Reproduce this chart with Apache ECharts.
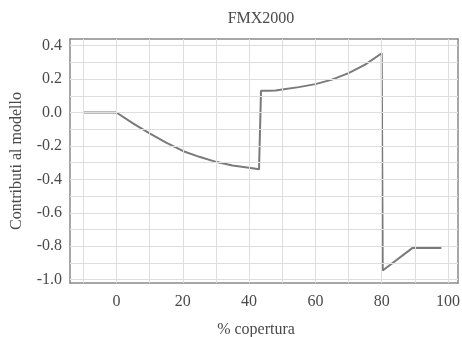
<!DOCTYPE html>
<html>
<head>
<meta charset="utf-8">
<script src="https://cdn.jsdelivr.net/npm/echarts@6/dist/echarts.min.js"></script>
<style>
  html, body { margin: 0; padding: 0; background: #fff; }
  #chart { width: 462px; height: 337px; }
</style>
</head>
<body>
<div id="chart"></div>
<script>
// values
const copertura = [-10, 0, 5, 10, 15, 20, 25, 30, 35, 40, 43, 43.6, 46, 48, 50, 55, 60, 65, 70, 75, 80, 80.3, 80.6, 89.3, 98];
const contributi = [0, 0, -0.065, -0.125, -0.18, -0.23, -0.265, -0.295, -0.317, -0.33, -0.34, 0.13, 0.13, 0.132, 0.138, 0.152, 0.17, 0.197, 0.236, 0.287, 0.355, -0.945, -0.945, -0.81, -0.81];
const xLabels = [0, 20, 40, 60, 80, 100];
const yLabels = [0.4, 0.2, 0.0, -0.2, -0.4, -0.6, -0.8, -1.0];
const xGrid = [-10, 0, 10, 20, 30, 40, 50, 60, 70, 80, 90, 100];
const yGrid = [-1.0, -0.9, -0.8, -0.7, -0.6, -0.5, -0.4, -0.3, -0.2, -0.1, 0.0, 0.1, 0.2, 0.3, 0.4];

const serif = '"Liberation Serif", "DejaVu Serif", serif';
const textColor = '#4a4a4a';
const frameColor = '#8a8a8a';
const gridColor = '#dedede';

const points = copertura.map((x, i) => [x, contributi[i]]);

const xBase = { type: 'value', min: -14, max: 103 };
const yBase = { type: 'value', min: -1.02, max: 0.44 };
const frame = { show: true, onZero: false, lineStyle: { color: frameColor, width: 1.5 } };
const ticks = (vals) => ({ show: true, inside: true, length: 3, customValues: vals, lineStyle: { color: frameColor } });

const chart = echarts.init(document.getElementById('chart'), null, { renderer: 'canvas' });
chart.setOption({
  animation: false,
  backgroundColor: '#fff',
  title: {
    text: 'FMX2000',
    left: 256,
    top: 6,
    textAlign: 'center',
    textStyle: { fontFamily: serif, fontSize: 16, fontWeight: 'normal', color: textColor },
  },
  grid: { left: 70, right: 4, top: 39, bottom: 54, containLabel: false, outerBoundsMode: 'none' },
  xAxis: [
    {
      ...xBase,
      name: '% copertura',
      nameLocation: 'middle',
      nameGap: 39,
      nameTextStyle: { fontFamily: serif, fontSize: 16, color: textColor, padding: [0, 16, 0, 0] },
      axisLine: frame,
      axisTick: ticks(xGrid),
      axisLabel: { customValues: xLabels, formatter: v => String(v), fontFamily: serif, fontSize: 16, color: textColor, margin: 11, hideOverlap: false },
      splitLine: { show: false },
    },
    {
      ...xBase,
      position: 'top',
      axisLine: frame,
      axisTick: ticks(xGrid),
      axisLabel: { show: false },
      splitLine: { show: false },
    },
  ],
  yAxis: [
    {
      ...yBase,
      name: 'Contributi al modello',
      nameLocation: 'middle',
      nameGap: 45,
      nameTextStyle: { fontFamily: serif, fontSize: 16, color: textColor },
      axisLine: frame,
      axisTick: ticks(yGrid),
      axisLabel: { customValues: yLabels, formatter: v => v.toFixed(1), fontFamily: serif, fontSize: 16, color: textColor, margin: 8 },
      splitLine: { show: false },
    },
    {
      ...yBase,
      position: 'right',
      axisLine: frame,
      axisTick: ticks(yGrid),
      axisLabel: { show: false },
      splitLine: { show: false },
    },
  ],
  series: [
    {
      type: 'line',
      data: points,
      showSymbol: false,
      smooth: false,
      z: 3,
      lineStyle: { color: '#7a7a7a', width: 2 },
      markLine: {
        silent: true,
        symbol: 'none',
        animation: false,
        label: { show: false },
        lineStyle: { color: gridColor, width: 1, type: 'solid' },
        data: [
          ...xGrid.map(v => ({ xAxis: v })),
          ...yGrid.map(v => ({ yAxis: v })),
        ],
      },
    },
  ],
});
</script>
</body>
</html>
